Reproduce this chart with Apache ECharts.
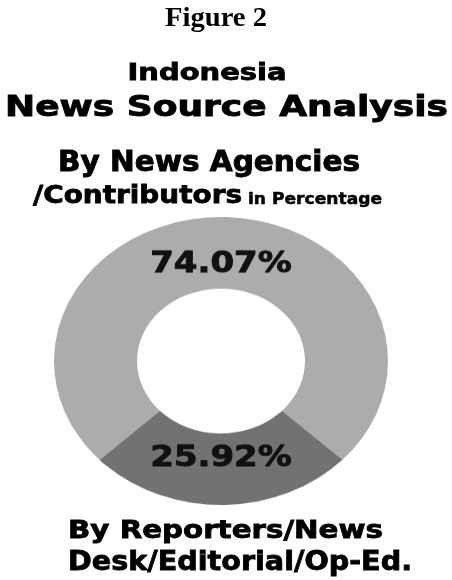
<!DOCTYPE html>
<html><head><meta charset="utf-8">
<script src="https://cdn.jsdelivr.net/npm/echarts@6/dist/echarts.min.js"></script>
<style>
html,body{margin:0;padding:0;background:#fff;}
#wrap{position:relative;width:452px;height:580px;overflow:hidden;}
#pie,#txt{position:absolute;left:0;top:0;width:452px;height:580px;}
#pie{transform:scaleY(0.862);transform-origin:221px 361px;}
</style>
</head><body>
<div id="wrap"><div id="pie"></div><div id="txt"></div></div>
<script>
// ---- data ----
const categories = ['By News Agencies/Contributors', 'By Reporters/News Desk/Editorial/Op-Ed.'];
const values = [74.07, 25.92];
const sliceColors = ['#acacac', '#727272'];
const labelShift = [17, -15];

// ---- pie (drawn round, squashed vertically like the reference) ----
const pie = echarts.init(document.getElementById('pie'), null, {renderer: 'canvas'});
pie.setOption({
  animation: false,
  series: [{
    type: 'pie',
    center: [221, 361],
    radius: [84, 167],
    startAngle: 223.35,
    clockwise: true,
    avoidLabelOverlap: false,
    labelLine: {show: false},
    itemStyle: {borderWidth: 0},
    emphasis: {disabled: true},
    data: categories.map((name, i) => ({
      name: name,
      value: values[i],
      itemStyle: {color: sliceColors[i]}
    })),
    label: {
      show: true,
      position: 'inside',
      formatter: '{c}%',
      color: '#111',
      fontFamily: 'DejaVu Sans',
      fontWeight: 'bold',
      fontSize: 34,
      textBorderColor: '#111',
      textBorderWidth: 1
    },
    labelLayout: function (p) { return {dy: labelShift[p.dataIndex]}; }
  }]
});

// ---- text ----
const cvs = document.createElement('canvas').getContext('2d');
function measure(font, text) { cvs.font = font; return cvs.measureText(text).width; }
// [text, family, size, anchorX, baselineY, targetWidth, align, strokeWidth]
const lines = [
  ['Figure 2', 'Liberation Serif', 28, 216, 28, 102, 'center', 0],
  ['Indonesia', 'DejaVu Sans', 23, 207, 82, 159, 'center', 0.8],
  ['News Source Analysis', 'DejaVu Sans', 29, 226.5, 118, 443, 'center', 0.9],
  ['By News Agencies', 'DejaVu Sans', 27.5, 209, 173, 302, 'center', 0.9],
  ['/Contributors', 'DejaVu Sans', 25, 33, 205, 209, 'left', 0.8],
  ['in Percentage', 'DejaVu Sans', 15, 248, 205, 134, 'left', 0.5],
  ['By Reporters/News', 'DejaVu Sans', 25, 68, 540, 315, 'left', 0.8],
  ['Desk/Editorial/Op-Ed.', 'DejaVu Sans', 26, 68, 572, 344, 'left', 0.8]
];
const graphics = lines.map(l => {
  const font = 'bold ' + l[2] + 'px "' + l[1] + '"';
  const w = measure(font, l[0]);
  const st = {
    text: l[0],
    x: 0, y: 0,
    font: font,
    fill: '#000',
    textAlign: l[6],
    textVerticalAlign: 'middle'
  };
  if (l[7] > 0) { st.stroke = '#000'; st.lineWidth = l[7]; }
  return {
    type: 'text',
    x: l[3],
    y: l[4] - 0.33 * l[2],
    scaleX: l[5] / w,
    style: st
  };
});
const txt = echarts.init(document.getElementById('txt'), null, {renderer: 'canvas'});
txt.setOption({animation: false, graphic: graphics});
</script>
</body></html>
